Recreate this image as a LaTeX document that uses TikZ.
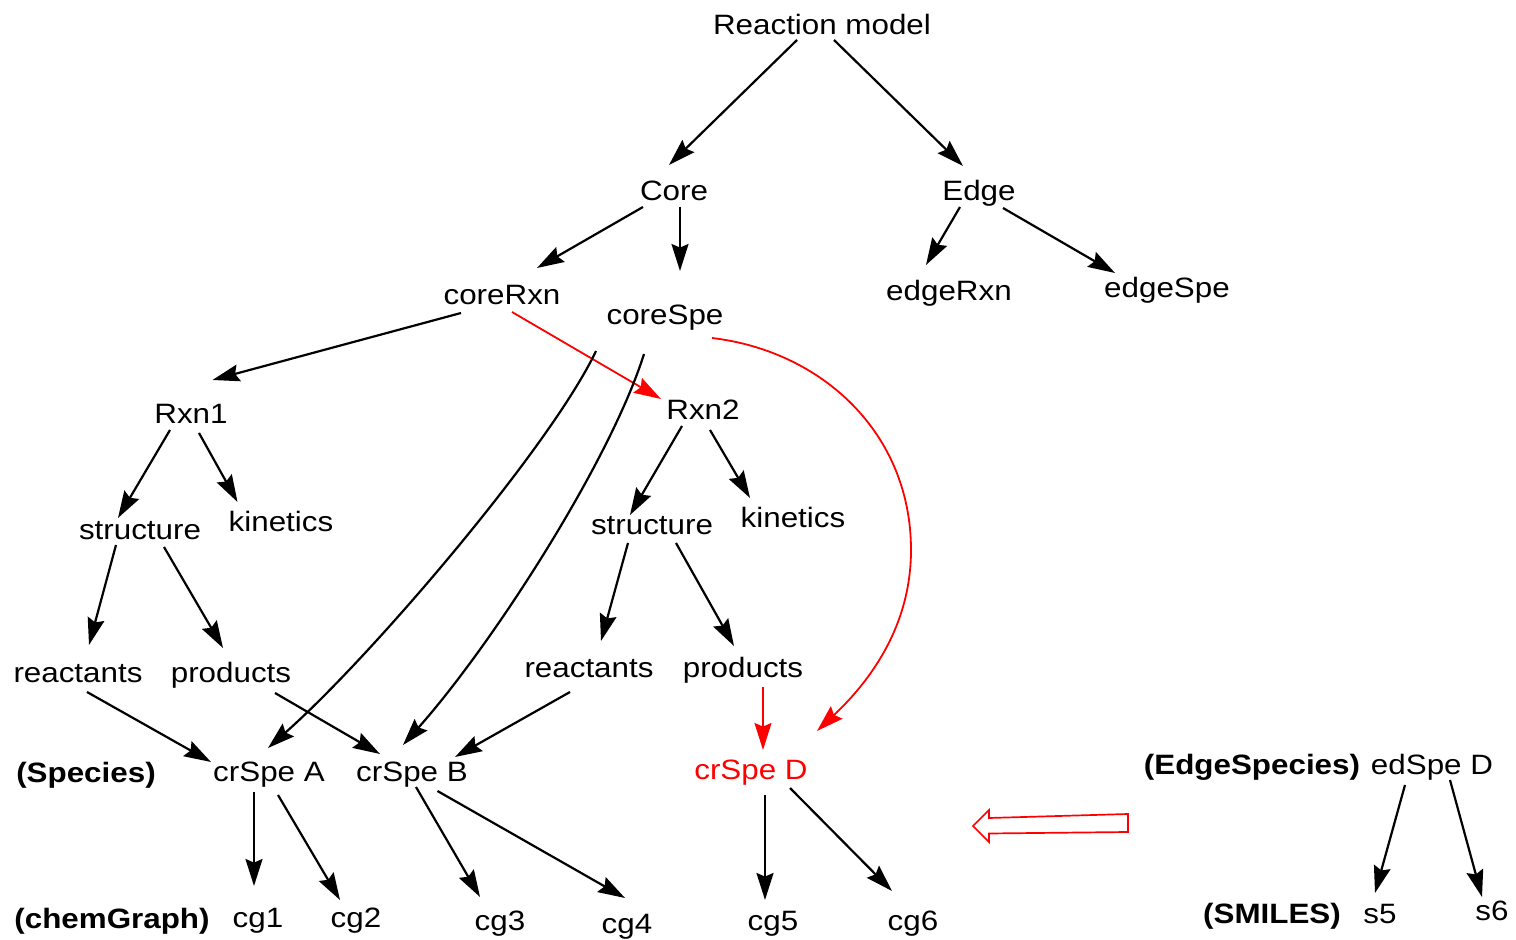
\documentclass[tikz,border=0pt]{standalone}
\usepackage{fontspec}
\setmainfont{Liberation Sans}
\usetikzlibrary{arrows.meta}

\begin{document}
\begin{tikzpicture}[x=0.5pt,y=-0.5pt,
  lbl/.style={anchor=base, inner sep=0pt, xscale=1.12,
              font=\fontsize{14pt}{16pt}\selectfont},
  tag/.style={lbl, font=\fontsize{14pt}{16pt}\selectfont\bfseries},
  tip/.style={-{Stealth[length=13.5pt,width=8.5pt,inset=1.8pt]}},
  arr/.style={draw, line width=1.1pt, tip},
  redarr/.style={draw=red, line width=0.9pt, tip, red}
]
\useasboundingbox (0,0) rectangle (1516,940);

% ---- labels ----
\node[lbl] (rm) at (822,35) {Reaction model};
\node[lbl] (core) at (674,201) {Core};
\node[lbl] (edge) at (979,201) {Edge};
\node[lbl] (coreRxn) at (502,305) {coreRxn};
\node[lbl] (coreSpe) at (665,325) {coreSpe};
\node[lbl] (edgeRxn) at (949,301) {edgeRxn};
\node[lbl] (edgeSpe) at (1167,298) {edgeSpe};
\node[lbl] (rxn1) at (191,424) {Rxn1};
\node[lbl] (rxn2) at (703,420) {Rxn2};
\node[lbl] (strL) at (140,540) {structure};
\node[lbl] (kinL) at (281,532) {kinetics};
\node[lbl] (strR) at (652,535) {structure};
\node[lbl] (kinR) at (793,528) {kinetics};
\node[lbl] (reacL) at (78,683) {reactants};
\node[lbl] (prodL) at (231,683) {products};
\node[lbl] (reacR) at (589,678) {reactants};
\node[lbl] (prodR) at (743,678) {products};
\node[tag] (tSpecies) at (86,783) {(Species)};
\node[lbl] (spA) at (269,782) {crSpe A};
\node[lbl] (spB) at (412,782) {crSpe B};
\node[lbl,text=red] (spD) at (751,779) {crSpe D};
\node[tag] (tEdgeSp) at (1252,775) {(EdgeSpecies)};
\node[lbl] (edD) at (1432,775) {edSpe D};
\node[tag] (tChem) at (112,928) {(chemGraph)};
\node[lbl] (cg1) at (258,927) {cg1};
\node[lbl] (cg2) at (356,927) {cg2};
\node[lbl] (cg3) at (500,930) {cg3};
\node[lbl] (cg4) at (627,933) {cg4};
\node[lbl] (cg5) at (773,930) {cg5};
\node[lbl] (cg6) at (913,930) {cg6};
\node[tag] (tSmiles) at (1272,923) {(SMILES)};
\node[lbl] (s5) at (1380,923) {s5};
\node[lbl] (s6) at (1492,920) {s6};

% ---- tree connectors ----
\draw[arr] ([shift={(-25,5)}]rm.base) -- ([shift={(-5,-36)}]core.base);
\draw[arr] ([shift={(12,5)}]rm.base) -- ([shift={(-16,-35)}]edge.base);
\draw[arr] ([shift={(-31,6)}]core.base) -- ([shift={(35,-37)}]coreRxn.base);
\draw[arr] ([shift={(6,6)}]core.base) -- ([shift={(15,-54)}]coreSpe.base);
\draw[arr] ([shift={(-19,6)}]edge.base) -- ([shift={(-23,-36)}]edgeRxn.base);
\draw[arr] ([shift={(24,7)}]edge.base) -- ([shift={(-52,-25)}]edgeSpe.base);
\draw[arr] ([shift={(-41,8)}]coreRxn.base) -- ([shift={(21.5,-44)}]rxn1.base);
\draw[redarr] ([shift={(10,7)}]coreRxn.base) -- ([shift={(-42,-21)}]rxn2.base);

% species links leaving coreSpe
\draw[arr] ([shift={(-69,26)}]coreSpe.base)
  .. controls (551,446) and (372,656) .. ([shift={(-1,-34)}]spA.base);
\draw[arr] ([shift={(-21,29)}]coreSpe.base)
  .. controls (610,462) and (492,645) .. ([shift={(-9,-37)}]spB.base);
\draw[redarr] ([shift={(47,13)}]coreSpe.base)
  .. controls (822,351) and (911,433) .. (911,550)
  .. controls (911,628) and (868,683) .. ([shift={(66,-48)}]spD.base);

% reaction branches
\draw[arr] ([shift={(-21,6)}]rxn1.base) -- ([shift={(-22,-22)}]strL.base);
\draw[arr] ([shift={(8,9)}]rxn1.base) -- ([shift={(-43.5,-30)}]kinL.base);
\draw[arr] ([shift={(-24,5)}]strL.base) -- ([shift={(11,-38)}]reacL.base);
\draw[arr] ([shift={(24,7)}]strL.base) -- ([shift={(-8,-35)}]prodL.base);
\draw[arr] ([shift={(-21,6)}]rxn2.base) -- ([shift={(-22,-20)}]strR.base);
\draw[arr] ([shift={(7,10)}]rxn2.base) -- ([shift={(-43,-30)}]kinR.base);
\draw[arr] ([shift={(-24,8)}]strR.base) -- ([shift={(12,-37)}]reacR.base);
\draw[arr] ([shift={(24,8)}]strR.base) -- ([shift={(-9,-32)}]prodR.base);

% reactants / products to species
\draw[arr] ([shift={(9,9)}]reacL.base) -- ([shift={(-58,-20)}]spA.base);
\draw[arr] ([shift={(44,10)}]prodL.base) -- ([shift={(-32,-28)}]spB.base);
\draw[arr] ([shift={(-19,14)}]reacR.base) -- ([shift={(43,-25)}]spB.base);
\draw[redarr] ([shift={(20,9)}]prodR.base) -- ([shift={(12,-29)}]spD.base);

% species to chemical graphs
\draw[arr] ([shift={(-15,10)}]spA.base) -- ([shift={(-4,-41)}]cg1.base);
\draw[arr] ([shift={(9,13)}]spA.base) -- ([shift={(-16,-27)}]cg2.base);
\draw[arr] ([shift={(4,5)}]spB.base) -- ([shift={(-20,-33)}]cg3.base);
\draw[arr] ([shift={(25.5,9)}]spB.base) -- ([shift={(-2,-35)}]cg4.base);
\draw[arr] ([shift={(14,16)}]spD.base) -- ([shift={(-8,-30)}]cg5.base);
\draw[arr] ([shift={(39,9)}]spD.base) -- ([shift={(-21,-39)}]cg6.base);

% edge species to SMILES
\draw[arr] ([shift={(-27,10)}]edD.base) -- ([shift={(-5,-30)}]s5.base);
\draw[arr] ([shift={(18,5)}]edD.base) -- ([shift={(-10,-23)}]s6.base);

% hollow block arrow pointing left
\draw[red, line width=0.85pt, line join=miter]
  (1128,814) -- (1128,832) -- (989,833.5) -- (989,842) -- (973,826)
  -- (989,810) -- (989,818) -- cycle;
\end{tikzpicture}
\end{document}
